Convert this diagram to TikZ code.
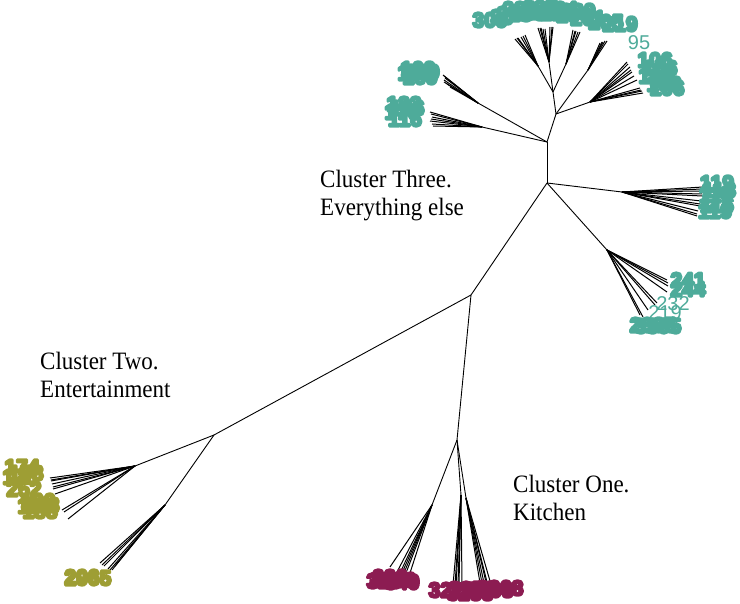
\documentclass[tikz,border=0pt]{standalone}
\usepackage{fontspec}
\setmainfont{Liberation Serif}
\newfontfamily\labf{Liberation Sans}
\usepackage{graphicx}
\definecolor{tealc}{RGB}{78,171,154}
\definecolor{olivec}{RGB}{158,158,52}
\definecolor{maroonc}{RGB}{140,28,82}
\newcommand\cxs[1]{\scalebox{0.92}[1]{#1}}
\newcommand\thickglyphs{\special{pdf:literal direct 2 Tr 2.6 w 1 j}}
\begin{document}
\begin{tikzpicture}[x=1pt,y=-1pt,
  branch/.style={draw=black,line width=0.9pt},
  fan/.style={draw=black,line width=1pt},
  ctext/.style={inner sep=0pt,anchor=north west,align=left,font=\fontsize{25}{28}\selectfont},
  labb/.style={inner sep=0pt,font=\labf\fontsize{21}{21}\selectfont\bfseries\thickglyphs},
  labr/.style={inner sep=0pt,font=\labf\fontsize{20}{20}\selectfont},
  tl/.style={labb,text=tealc},
  tlr/.style={labr,text=tealc},
  ol/.style={labb,text=olivec},
  ml/.style={labb,text=maroonc}]
\useasboundingbox (0,0) rectangle (740,604);
% cluster titles
\node[ctext] (c3) at (320,170) {\cxs{Cluster Three.}\\\cxs{Everything else}};
\node[ctext] (c2) at (40,352) {\cxs{Cluster Two.}\\\cxs{Entertainment}};
\node[ctext] (c1) at (513,475) {\cxs{Cluster One.}\\\cxs{Kitchen}};
% internal nodes
\coordinate (A) at (471,295);
\coordinate (B) at (547,183);
\coordinate (C) at (547,142);
\coordinate (G1) at (556,114);
\coordinate (G2) at (553,92);
\coordinate (H1) at (590,102);
\coordinate (T1) at (538,66);
\coordinate (T2) at (549,62);
\coordinate (T3) at (566,64);
\coordinate (T4) at (588,70);
\coordinate (F1) at (478,103);
\coordinate (F2) at (482,127);
\coordinate (R1) at (622,192);
\coordinate (R2) at (607,250);
\coordinate (H) at (214,435);
\coordinate (I) at (135,466);
\coordinate (J) at (165,505);
\coordinate (K) at (457,440);
\coordinate (L) at (432,505);
\coordinate (M) at (461,495);
\coordinate (N) at (466,498);
% main branches
\draw[branch] (A) -- (B);
\draw[branch] (B) -- (C);
\draw[branch] (C) -- (G1);
\draw[branch] (G1) -- (G2);
\draw[branch] (G1) -- (H1);
\draw[branch] (G2) -- (T1);
\draw[branch] (G2) -- (T2);
\draw[branch] (G2) -- (T3);
\draw[branch] (G1) -- (T4);
\draw[branch] (C) -- (F1);
\draw[branch] (C) -- (F2);
\draw[branch] (B) -- (R1);
\draw[branch] (B) -- (R2);
\draw[branch] (A) -- (H);
\draw[branch] (H) -- (I);
\draw[branch] (H) -- (J);
\draw[branch] (A) -- (K);
\draw[branch] (K) -- (L);
\draw[branch] (K) -- (M);
\draw[branch] (K) -- (N);
% fans
\foreach \x/\y [count=\i] in {627/62,628/64,630/67,631/70,632/72,634/76,637/80,640/88,643/93,641/90,642/91}
  {\coordinate (h1t\i) at (\x,\y); \draw[fan] (H1) -- (h1t\i);}
\foreach \x/\y [count=\i] in {515/39,517/38,518/38,521/37,523/36,525/35}
  {\coordinate (t1t\i) at (\x,\y); \draw[fan] (T1) -- (t1t\i);}
\foreach \x/\y [count=\i] in {538/28,540/28,541/28,543/29,545/29,550/27,552/27,553/27}
  {\coordinate (t2t\i) at (\x,\y); \draw[fan] (T2) -- (t2t\i);}
\foreach \x/\y [count=\i] in {573/30,575/31,576/31,578/32,580/32}
  {\coordinate (t3t\i) at (\x,\y); \draw[fan] (T3) -- (t3t\i);}
\foreach \x/\y [count=\i] in {600/43,602/42,603/42,605/41,607/41}
  {\coordinate (t4t\i) at (\x,\y); \draw[fan] (T4) -- (t4t\i);}
\foreach \x/\y [count=\i] in {443/75,444/76,445/78,444/80,444/82,447/84,450/87}
  {\coordinate (f1t\i) at (\x,\y); \draw[fan] (F1) -- (f1t\i);}
\foreach \x/\y [count=\i] in {430/112,431/114,432/117,431/119,430/121,432/124,433/126}
  {\coordinate (f2t\i) at (\x,\y); \draw[fan] (F2) -- (f2t\i);}
\foreach \x/\y [count=\i] in {703/187,703/189,703/191,702/194,702/196,701/201,700/204,700/206,698/211,697/214,697/216}
  {\coordinate (r1t\i) at (\x,\y); \draw[fan] (R1) -- (r1t\i);}
\foreach \x/\y [count=\i] in {667/280,668/283,668/286,667/292,657/303,655/305,648/310,640/315,643/317}
  {\coordinate (r2t\i) at (\x,\y); \draw[fan] (R2) -- (r2t\i);}
\foreach \x/\y [count=\i] in {50/478,51/480,51/481,52/484,53/487,53/489,55/494,62/510,64/512,68/519}
  {\coordinate (it\i) at (\x,\y); \draw[fan] (I) -- (it\i);}
\foreach \x/\y [count=\i] in {100/563,102/565,104/566,108/569,110/570,112/570,115/566}
  {\coordinate (jt\i) at (\x,\y); \draw[fan] (J) -- (jt\i);}
\foreach \x/\y [count=\i] in {390/567,397/572,400/573,402/573,404/573,406/573,410/573}
  {\coordinate (lt\i) at (\x,\y); \draw[fan] (L) -- (lt\i);}
\foreach \x/\y [count=\i] in {453/585,455/585,456/585,458/584,459/584,462/584}
  {\coordinate (mt\i) at (\x,\y); \draw[fan] (M) -- (mt\i);}
\foreach \x/\y [count=\i] in {480/583,482/583,484/583,486/582,487/582,490/581}
  {\coordinate (nt\i) at (\x,\y); \draw[fan] (N) -- (nt\i);}
% teal labels
\node[tlr] (n95) at (639,43) {95};
\foreach \t/\x/\y [count=\i] in {106/655/60,156/660/68,196/656/76,166/664/84,106/667/88}
  {\node[tl] (ua\i) at (\x,\y) {\t};}
\foreach \t/\x/\y [count=\i] in {309/490/20,30/502/17,213/514/14,280/528/13,208/544/12,226/558/13,290/574/15,201/588/18,205/606/22,219/620/24,
  231/520/9,287/540/8,264/560/9,229/578/11}
  {\node[tl] (tp\i) at (\x,\y) {\t};}
\foreach \t/\x/\y [count=\i] in {109/418/69,169/420/77,189/415/73,199/422/72}
  {\node[tl] (ul\i) at (\x,\y) {\t};}
\foreach \t/\x/\y [count=\i] in {183/404/104,176/402/112,116/405/119,186/407/108}
  {\node[tl] (ll\i) at (\x,\y) {\t};}
\foreach \t/\x/\y [count=\i] in {119/717/183,110/716/195,116/717/205,119/715/211,118/719/190}
  {\node[tl] (rt\i) at (\x,\y) {\t};}
\foreach \t/\x/\y [count=\i] in {241/688/280,244/688/289}
  {\node[tl] (rb\i) at (\x,\y) {\t};}
\node[tlr] (n232) at (673,304) {232};
\node[tlr] (n219) at (665,313) {219};
\foreach \t/\x/\y [count=\i] in {2395/653/325,3365/658/326}
  {\node[tl] (rc\i) at (\x,\y) {\t};}
% olive labels
\foreach \t/\x/\y [count=\i] in {174/22/467,176/20/477,252/24/489,178/26/473,190/38/501,180/35/506,188/40/511,198/42/505,206/82/577,2965/88/578}
  {\node[ol] (ov\i) at (\x,\y) {\t};}
% maroon labels
\foreach \t/\x/\y [count=\i] in {320/384/581,3480/393/580,340/402/582,330/390/577,3226/452/590,3258/472/589,3298/490/590,3268/500/588,3288/470/593}
  {\node[ml] (mr\i) at (\x,\y) {\t};}
\end{tikzpicture}
\end{document}
